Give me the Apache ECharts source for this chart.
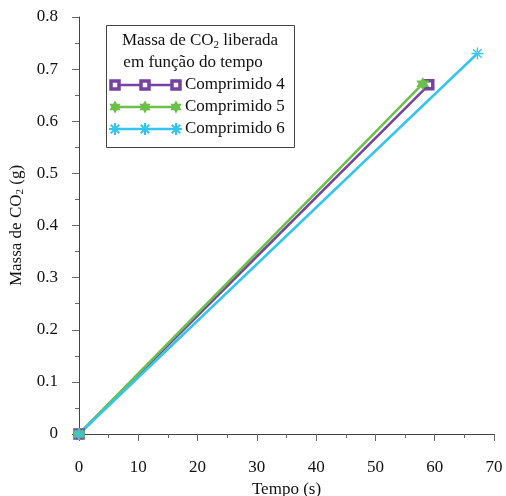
<!DOCTYPE html>
<html>
<head>
<meta charset="utf-8">
<script src="https://cdn.jsdelivr.net/npm/echarts@6/dist/echarts.min.js"></script>
<style>html,body{margin:0;padding:0;background:#fff}#c{width:506px;height:496px}</style>
</head>
<body>
<div id="c"></div>
<script>
var seriesNames = ['Comprimido 4', 'Comprimido 5', 'Comprimido 6'];
var comp4 = [[0, 0], [59, 0.67]];
var comp5 = [[0, 0], [58, 0.672]];
var comp6 = [[0, 0], [67.2, 0.73]];
var xTicks = [0, 10, 20, 30, 40, 50, 60, 70];
var yTicks = [0, 0.1, 0.2, 0.3, 0.4, 0.5, 0.6, 0.7, 0.8];

var FONT = '"Liberation Serif", "Times New Roman", serif';
var C4 = '#7542A3', C5 = '#6CC04A', C6 = '#35C4EE';
var starPath = 'path://M0,-10 L2.89,-5 L8.66,-5 L5.77,0 L8.66,5 L2.89,5 L0,10 L-2.89,5 L-8.66,5 L-5.77,0 L-8.66,-5 L-2.89,-5 Z';
var astPath = 'path://M-1.1,-10 L1.1,-10 L1.1,10 L-1.1,10 Z M-10,-1.1 L-10,1.1 L10,1.1 L10,-1.1 Z M-7.85,-6.3 L6.3,7.85 L7.85,6.3 L-6.3,-7.85 Z M7.85,-6.3 L6.3,-7.85 L-7.85,6.3 L-6.3,7.85 Z';
var starPts = [[0,-10],[2.89,-5],[8.66,-5],[5.77,0],[8.66,5],[2.89,5],[0,10],[-2.89,5],[-8.66,5],[-5.77,0],[-8.66,-5],[-2.89,-5]];

var chart = echarts.init(document.getElementById('c'));

function axisCommon() {
  return {
    axisLine: { show: true, lineStyle: { color: '#444', width: 1 } },
    axisTick: { show: true, inside: false, length: 7, lineStyle: { color: '#666' } },
    minorTick: { show: true, splitNumber: 2, length: 4, lineStyle: { color: '#666' } },
    splitLine: { show: false },
    axisLabel: { color: '#111', fontFamily: FONT, fontSize: 17 },
    nameTextStyle: { color: '#111', fontFamily: FONT, fontSize: 17 }
  };
}

var xa = axisCommon();
xa.type = 'value'; xa.min = xTicks[0]; xa.max = xTicks[xTicks.length - 1]; xa.interval = xTicks[1] - xTicks[0];
xa.name = 'Tempo (s)'; xa.nameLocation = 'middle'; xa.nameGap = 46;
xa.axisLabel.margin = 25;

var ya = axisCommon();
ya.type = 'value'; ya.min = yTicks[0]; ya.max = yTicks[yTicks.length - 1]; ya.interval = 0.1;
ya.name = 'Massa de CO{sub|2} (g)'; ya.nameLocation = 'middle'; ya.nameGap = 51;
ya.nameTextStyle.rich = { sub: { fontFamily: FONT, fontSize: 11, verticalAlign: 'bottom', padding: [8, 0, 0, 0], color: '#111' } };
ya.axisLabel.margin = 21;
ya.axisLabel.formatter = function (v) { return String(Math.round(v * 10) / 10); };

function legendRow(y, color, symbolType, label) {
  var children = [];
  children.push({ type: 'line', shape: { x1: 115, y1: y, x2: 176, y2: y }, style: { stroke: color, lineWidth: 2.5 } });
  [115, 145, 176].forEach(function (cx) {
    if (symbolType === 'rect') {
      children.push({ type: 'rect', shape: { x: cx - 4, y: y - 4, width: 8, height: 8 }, style: { fill: '#fff', stroke: color, lineWidth: 3.5 } });
    } else if (symbolType === 'star') {
      children.push({ type: 'polygon', shape: { points: starPts.map(function (p) { return [cx + p[0] * 0.65, y + p[1] * 0.65]; }) }, style: { fill: color } });
    } else {
      [[0, 1], [1, 0], [0.707, 0.707], [0.707, -0.707]].forEach(function (d) {
        children.push({ type: 'line', shape: { x1: cx - d[0] * 6, y1: y - d[1] * 6, x2: cx + d[0] * 6, y2: y + d[1] * 6 }, style: { stroke: color, lineWidth: 2 } });
      });
    }
  });
  children.push({ type: 'text', x: 185, y: y, style: { text: label, fontFamily: FONT, fontSize: 17, fill: '#111', verticalAlign: 'middle', align: 'left' } });
  return children;
}

var legendChildren = [
  { type: 'rect', shape: { x: 106.5, y: 25.5, width: 188, height: 122 }, style: { fill: '#fff', stroke: '#444', lineWidth: 1 } },
  { type: 'text', x: 200, y: 41, style: { text: 'Massa de CO{sub|2} liberada', rich: { sub: { fontFamily: FONT, fontSize: 11, verticalAlign: 'bottom', padding: [8, 0, 0, 0], fill: '#111' } }, fontFamily: FONT, fontSize: 17, fill: '#111', align: 'center', verticalAlign: 'middle' } },
  { type: 'text', x: 193, y: 63, style: { text: 'em função do tempo', fontFamily: FONT, fontSize: 17, fill: '#111', align: 'center', verticalAlign: 'middle' } }
].concat(legendRow(85, C4, 'rect', seriesNames[0]))
 .concat(legendRow(107, C5, 'star', seriesNames[1]))
 .concat(legendRow(129, C6, 'ast', seriesNames[2]));

chart.setOption({
  animation: false,
  backgroundColor: '#fff',
  grid: { left: 79, right: 12, top: 17, bottom: 62, containLabel: false, outerBoundsMode: 'none' },
  xAxis: xa,
  yAxis: ya,
  series: [
    { name: seriesNames[0], type: 'line', data: comp4, symbol: 'rect', symbolSize: 8, showAllSymbol: true,
      lineStyle: { color: C4, width: 2.5 }, itemStyle: { color: '#fff', borderColor: C4, borderWidth: 3.5 } },
    { name: seriesNames[1], type: 'line', data: comp5, symbol: starPath, symbolSize: 13,
      lineStyle: { color: C5, width: 2.5 }, itemStyle: { color: C5 } },
    { name: seriesNames[2], type: 'line', data: comp6, symbol: astPath, symbolSize: 12,
      lineStyle: { color: C6, width: 2.5 }, itemStyle: { color: C6 } }
  ],
  graphic: legendChildren.map(function (c) { c.z = 100; return c; })
});
</script>
</body>
</html>
